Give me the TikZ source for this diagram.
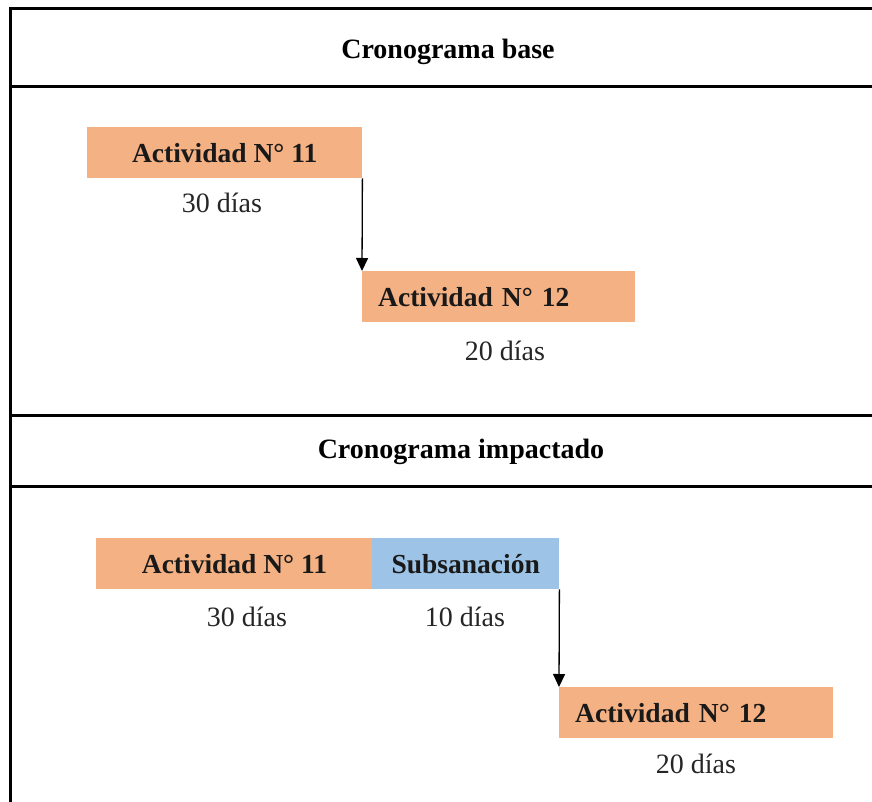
\documentclass[tikz,border=0pt]{standalone}
\usepackage{fontspec}
\setmainfont{Liberation Serif}
\usetikzlibrary{arrows.meta}
\definecolor{actorange}{HTML}{F4B183}
\definecolor{subblue}{HTML}{9DC3E6}
\tikzset{
  x=1pt, y=-1pt,
  frame/.style={line width=3pt},
  bar/.style={rectangle, inner sep=0pt, minimum height=51pt, anchor=north west,
    font=\fontsize{27.5}{32}\selectfont\bfseries, text=black!90},
  title/.style={font=\fontsize{28}{33}\selectfont\bfseries},
  dur/.style={font=\fontsize{28}{33}\selectfont, text=black!85},
  link/.style={line width=1.3pt, -{Triangle[width=12pt,length=13pt]}}
}
\begin{document}
\begin{tikzpicture}
\useasboundingbox (0,0) rectangle (872,802);
\fill[white] (0,0) rectangle (872,802);

% table frame and row separators
\draw[frame] (10.8,7) -- (10.8,802);
\draw[frame] (9.3,8.5) -- (872,8.5);
\draw[frame] (9.3,86.5) -- (872,86.5);
\draw[frame] (9.3,415) -- (872,415);
\draw[frame] (9.3,486) -- (872,486);

% section titles
\node[title] (tbase) at (448,52) {Cronograma base};
\node[title] (timp) at (461,452) {Cronograma impactado};

% base schedule
\node[bar, fill=actorange, minimum width=275pt] (b11) at (87,127) {Actividad N° 11};
\node[dur] (b11d) at (222,203) {30 días};
\node[bar, fill=actorange, minimum width=273pt, text width=241pt, align=left, inner xsep=16pt] (b12) at (362,271) {Actividad N° 12};
\node[dur] (b12d) at (505,351) {20 días};
\draw[link] (b11.south east) -- (b12.north west);

% impacted schedule
\node[bar, fill=actorange, minimum width=276.6pt] (i11) at (96,538) {Actividad N° 11};
\node[bar, fill=subblue, minimum width=187pt] (isub) at (372,538) {Subsanación};
\node[dur] (i11d) at (247,617) {30 días};
\node[dur] (isubd) at (465,617) {10 días};
\node[bar, fill=actorange, minimum width=274pt, text width=242pt, align=left, inner xsep=16pt] (i12) at (559,687) {Actividad N° 12};
\node[dur] (i12d) at (696,764) {20 días};
\draw[link] (isub.south east) -- (i12.north west);
\end{tikzpicture}
\end{document}
